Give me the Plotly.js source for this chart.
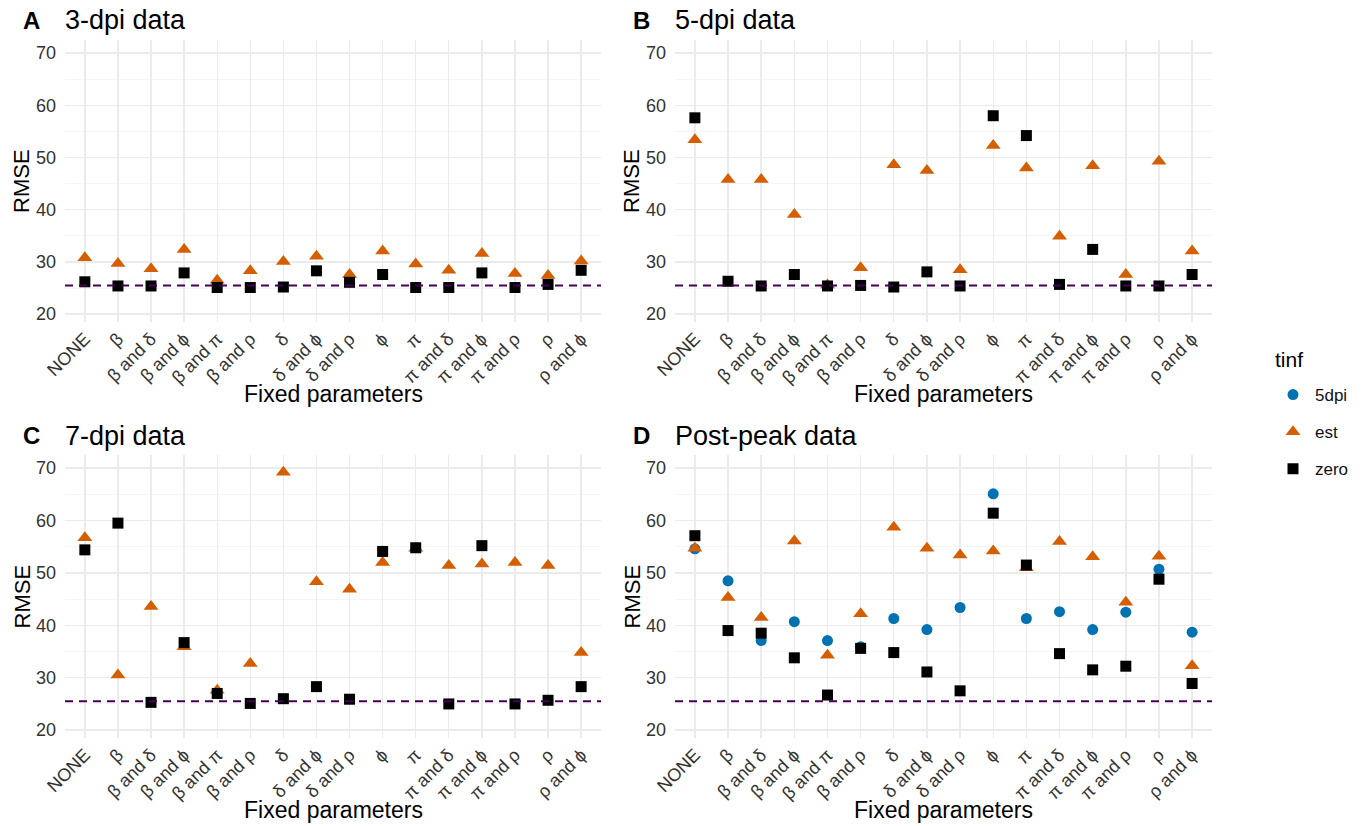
<!DOCTYPE html>
<html>
<head>
<meta charset="utf-8">
<script src="https://cdn.plot.ly/plotly-3.0.1.min.js"></script>
<style>html,body{margin:0;padding:0;background:#fff;}#chart{width:1369px;height:826px;}</style>
</head>
<body>
<div id="chart"></div>
<script>
// Categories (fixed parameters)
const categories = ["NONE","β","β and δ","β and ϕ","β and π","β and ρ","δ","δ and ϕ","δ and ρ","ϕ","π","π and δ","π and ϕ","π and ρ","ρ","ρ and ϕ"];
const tickLabels = ["NONE","β","β and δ","β and ϕ","β and π","β and ρ","δ","δ and ϕ","δ and ρ","ϕ","π","π and δ","π and ϕ","π and ρ","ρ","ρ and ϕ"];

// Panel A: 3-dpi data
const a_est  = [30.8,29.7,28.7,32.4,26.5,28.3,30.1,31.1,27.6,32.1,29.6,28.4,31.6,27.8,27.4,30.2];
const a_zero = [26.2,25.4,25.4,27.9,25.1,25.1,25.2,28.3,26.1,27.6,25.1,25.1,27.9,25.1,25.7,28.4];
// Panel B: 5-dpi data
const b_est  = [53.4,45.8,45.8,39.1,25.6,28.9,48.6,47.5,28.5,52.3,48.0,34.9,48.4,27.6,49.3,32.1];
const b_zero = [57.6,26.3,25.4,27.6,25.4,25.5,25.2,28.1,25.4,58.0,54.2,25.7,32.4,25.4,25.4,27.6];
// Panel C: 7-dpi data
const c_est  = [56.7,30.5,43.6,35.9,27.6,32.7,69.2,48.3,46.9,52.0,54.7,51.4,51.7,52.0,51.4,34.8];
const c_zero = [54.4,59.5,25.3,36.7,27.0,25.1,26.0,28.3,25.9,54.1,54.8,25.0,55.2,25.0,25.7,28.3];
// Panel D: Post-peak data
const d_5dpi = [54.6,48.5,37.1,40.7,37.1,35.9,41.3,39.2,43.4,65.1,41.3,42.6,39.2,42.5,50.7,38.7];
const d_est  = [54.7,45.3,41.5,56.1,34.3,42.2,58.7,54.7,53.4,54.2,51.0,56.0,53.1,44.4,53.2,32.3];
const d_zero = [57.1,39.0,38.5,33.8,26.7,35.6,34.8,31.1,27.5,61.4,51.5,34.6,31.5,32.2,48.8,28.9];

const baseline = 25.5;
const yTicks = [20,30,40,50,60,70];
const panelLetters = ["A","B","C","D"];
const panelTitles = ["3-dpi data","5-dpi data","7-dpi data","Post-peak data"];
const seriesNames = ["5dpi","est","zero"];
const legendTitle = "tinf";

const W = 1369, H = 826;
const FONT = "Liberation Sans, Arial, sans-serif";
const colors = {"5dpi":"#0072B2","est":"#D55E00","zero":"#000000"};
const symbols = {"5dpi":"circle","est":"triangle-up","zero":"square"};
const sizes = {"5dpi":11,"est":13,"zero":11};

// panel pixel boxes [left, right, top, bottom]
const boxes = [[65,601,40,322],[675,1212,40,322],[65,601,455,738],[675,1212,455,738]];

const panelData = [
  {est:a_est, zero:a_zero},
  {est:b_est, zero:b_zero},
  {est:c_est, zero:c_zero},
  {"5dpi":d_5dpi, est:d_est, zero:d_zero}
];

const traces = [];
panelData.forEach((pd, i) => {
  const sfx = i === 0 ? "" : String(i+1);
  seriesNames.forEach(name => {
    if (!pd[name]) return;
    traces.push({
      type: "scatter", mode: "markers",
      x: categories, y: pd[name],
      xaxis: "x"+sfx, yaxis: "y"+sfx,
      name: name, legendgroup: name,
      showlegend: i === 3,
      marker: {color: colors[name], symbol: symbols[name], size: sizes[name], line:{width:0}},
      hoverinfo: "x+y+name"
    });
  });
});

const layout = {
  width: W, height: H,
  margin: {l:0, r:0, t:0, b:0},
  paper_bgcolor: "#fff", plot_bgcolor: "#fff",
  font: {family: FONT, color: "#333"},
  showlegend: true,
  legend: {
    x: 1271/W, y: 1-377/H, xanchor: "left", yanchor: "top",
    font: {size: 17, color: "#111", family: FONT},
    tracegroupgap: 12, itemwidth: 34, bgcolor: "rgba(0,0,0,0)"
  },
  annotations: [{
    text: legendTitle, xref: "paper", yref: "paper",
    x: 1273/W, y: 1-359/H, xanchor: "left", yanchor: "middle",
    showarrow: false, font: {size: 21, color: "#000", family: FONT}
  }],
  shapes: []
};

boxes.forEach((b, i) => {
  const sfx = i === 0 ? "" : String(i+1);
  layout["xaxis"+sfx] = {
    domain: [b[0]/W, b[1]/W],
    anchor: "y"+sfx,
    type: "category",
    categoryorder: "array", categoryarray: categories,
    tickvals: categories, ticktext: tickLabels,
    range: [-0.6, categories.length - 0.4],
    tickangle: -45,
    tickfont: {size: 18, color: "#333", family: FONT},
    showgrid: true, gridcolor: "#EBEBEB", gridwidth: 1.4,
    zeroline: false, showline: false, ticks: "",
    ticklabelstandoff: 2,
    fixedrange: true
  };
  layout["yaxis"+sfx] = {
    domain: [1 - b[3]/H, 1 - b[2]/H],
    anchor: "x"+sfx,
    range: [18.5, 72.5],
    tickvals: yTicks, ticktext: yTicks.map(String),
    tickfont: {size: 18, color: "#333", family: FONT},
    showgrid: true, gridcolor: "#EBEBEB", gridwidth: 1.4,
    minor: {tickvals: [25,35,45,55,65], showgrid: true, gridcolor: "#F2F2F2", gridwidth: 0.8},
    zeroline: false, showline: false, ticks: "",
    ticklabelstandoff: 8,
    fixedrange: true
  };
  // reference dashed line
  layout.shapes.push({
    type: "line", xref: "x"+sfx+" domain", yref: "y"+sfx,
    x0: 0, x1: 1, y0: baseline, y1: baseline,
    line: {color: "#440154", width: 1.9, dash: "8px,6px"}
  });
  const titleY = 1 - ((i < 2 ? 20 : 436))/H;
  layout.annotations.push({
    text: "<b>"+panelLetters[i]+"</b>", xref: "paper", yref: "paper",
    x: (b[0]-34)/W, y: titleY, xanchor: "center", yanchor: "middle",
    showarrow: false, font: {size: 24, color: "#000", family: FONT}
  });
  layout.annotations.push({
    text: panelTitles[i], xref: "paper", yref: "paper",
    x: (b[0]-2)/W, y: titleY, xanchor: "left", yanchor: "middle",
    showarrow: false, font: {size: 27, color: "#000", family: FONT}
  });
  // y title
  layout.annotations.push({
    text: "RMSE", xref: "paper", yref: "paper",
    x: (b[0]-43)/W, y: 1 - ((b[2]+b[3])/2)/H, xanchor: "center", yanchor: "middle",
    textangle: -90, showarrow: false, font: {size: 22, color: "#000", family: FONT}
  });
  // x title
  layout.annotations.push({
    text: "Fixed parameters", xref: "paper", yref: "paper",
    x: ((b[0]+b[1])/2)/W, y: 1 - ((i < 2 ? 394 : 810))/H, xanchor: "center", yanchor: "middle",
    showarrow: false, font: {size: 23, color: "#000", family: FONT}
  });
});

Plotly.newPlot("chart", traces, layout, {displayModeBar: false, staticPlot: true});
</script>
</body>
</html>
